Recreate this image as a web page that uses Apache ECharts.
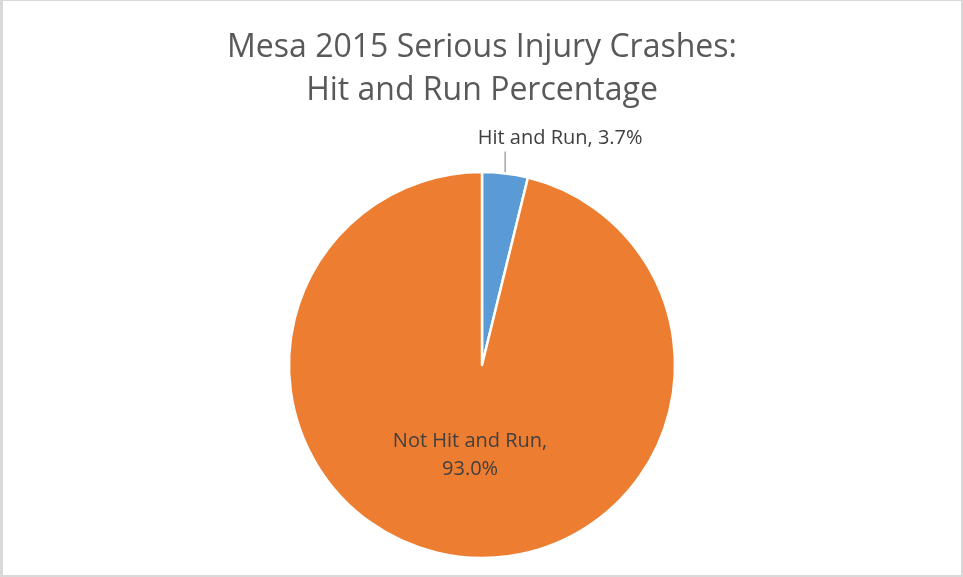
<!DOCTYPE html>
<html><head><meta charset="utf-8">
<script src="https://cdn.jsdelivr.net/npm/echarts@6/dist/echarts.min.js"></script>
<style>html,body{margin:0;padding:0;background:#fff}#c{width:963px;height:577px;box-sizing:border-box;border:2px solid #d9d9d9;border-top-width:1px;border-left-width:3px}</style>
</head><body><div id="c"></div>
<script>
const titleLines = ['Mesa 2015 Serious Injury Crashes:', 'Hit and Run Percentage'];
const categories = ['Hit and Run', 'Not Hit and Run'];
const values = [3.7, 93.0];
const colors = ['#5b9bd5', '#ed7d31'];

const chart = echarts.init(document.getElementById('c'));
chart.setOption({
  animation: false,
  title: {
    text: titleLines.join('\n'),
    left: 'center', top: 20,
    textStyle: { fontFamily: 'Open Sans', fontWeight: 'normal', fontSize: 32, color: '#595959', lineHeight: 43 }
  },
  series: [{
    type: 'pie',
    center: [479, 364],
    radius: 193,
    startAngle: 90,
    clockwise: true,
    itemStyle: { borderColor: '#fff', borderWidth: 2.5 },
    label: { fontFamily: 'Open Sans', fontSize: 20, color: '#404040', lineHeight: 28 },
    labelLine: { lineStyle: { color: '#a6a6a6', width: 1.5 } },
    data: [
      { name: categories[0], value: values[0], itemStyle: { color: colors[0] },
        label: { position: 'outside', formatter: p => p.name + ', ' + p.value.toFixed(1) + '%' },
        labelLine: { show: true, length: 22, length2: 0 } },
      { name: categories[1], value: values[1], itemStyle: { color: colors[1] },
        label: { position: 'inner', formatter: p => p.name + ',\n' + p.value.toFixed(1) + '%' },
        labelLine: { show: false } }
    ],
    labelLayout: function (p) {
      if (p.dataIndex === 0 && p.labelLinePoints) {
        const a = p.labelLinePoints[0];
        const top = a[1] - 22;
        return {
          x: a[0] + 55, y: top - 13, align: 'center', verticalAlign: 'middle',
          labelLinePoints: [[a[0], a[1]], [a[0], top], [a[0], top]]
        };
      }
      if (p.dataIndex === 1) {
        return { dy: -8 };
      }
    }
  }]
});
</script></body></html>
